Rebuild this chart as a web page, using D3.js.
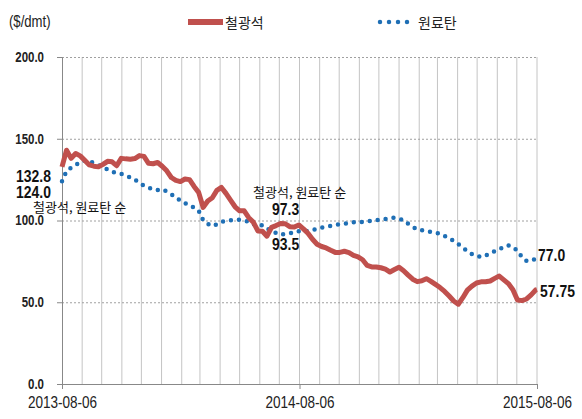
<!DOCTYPE html>
<html>
<head>
<meta charset="utf-8">
<script src="https://cdn.jsdelivr.net/npm/d3@7"></script>
<style>
  body { margin: 0; background: #fff; }
  svg { display: block; }
</style>
</head>
<body>
<div id="chart"></div>
<script>
// weekly observation dates
const dates = [
  "2013-08-06","2013-08-13","2013-08-20","2013-08-27","2013-09-03","2013-09-10","2013-09-17","2013-09-24",
  "2013-10-01","2013-10-08","2013-10-15","2013-10-22","2013-10-29","2013-11-05","2013-11-12","2013-11-19",
  "2013-11-26","2013-12-03","2013-12-10","2013-12-17","2013-12-24","2013-12-31","2014-01-07","2014-01-14",
  "2014-01-21","2014-01-28","2014-02-04","2014-02-11","2014-02-18","2014-02-25","2014-03-04","2014-03-11",
  "2014-03-18","2014-03-25","2014-04-01","2014-04-08","2014-04-15","2014-04-22","2014-04-29","2014-05-06",
  "2014-05-13","2014-05-20","2014-05-27","2014-06-03","2014-06-10","2014-06-17","2014-06-24","2014-07-01",
  "2014-07-08","2014-07-15","2014-07-22","2014-07-29","2014-08-05","2014-08-12","2014-08-19","2014-08-26",
  "2014-09-02","2014-09-09","2014-09-16","2014-09-23","2014-09-30","2014-10-07","2014-10-14","2014-10-21",
  "2014-10-28","2014-11-04","2014-11-11","2014-11-18","2014-11-25","2014-12-02","2014-12-09","2014-12-16",
  "2014-12-23","2014-12-30","2015-01-06","2015-01-13","2015-01-20","2015-01-27","2015-02-03","2015-02-10",
  "2015-02-17","2015-02-24","2015-03-03","2015-03-10","2015-03-17","2015-03-24","2015-03-31","2015-04-07",
  "2015-04-14","2015-04-21","2015-04-28","2015-05-05","2015-05-12","2015-05-19","2015-05-26","2015-06-02",
  "2015-06-09","2015-06-16","2015-06-23","2015-06-30","2015-07-07","2015-07-14","2015-07-21","2015-07-28",
  "2015-08-04","2015-08-06"
];

// 철광석 ($/dmt)
const ironOre = [
  132.8, 143, 138, 141, 139.5, 136.8, 134, 133.2, 132.8, 134.3,
  136.2, 135.9, 133.5, 138, 137.7, 137.5, 137.9, 139.7, 139.2, 135,
  134.7, 135.5, 133.2, 130.4, 126.3, 124.5, 123.8, 125.4, 125, 120.8,
  117.2, 108, 111.9, 113.9, 118.4, 120.2, 116.6, 112.5, 108.4, 105.9,
  105.9, 101.7, 99, 93.6, 93.4, 90.4, 95.8, 96.9, 98.2, 98,
  96.2, 96, 97.3, 94.9, 92.2, 88.5, 85.5, 84.1, 83.2, 81.8,
  80.5, 80.5, 81.2, 80.4, 78.7, 77.8, 76, 72.5, 71.6, 71.6,
  71.1, 70.2, 68.5, 70, 71.4, 69.3, 66.6, 64.1, 62.6, 63.1,
  64.4, 62.8, 60.9, 59, 56.6, 53.8, 50.8, 48.8, 52.8, 57.4,
  59.9, 61.8, 62.5, 62.5, 63, 64.6, 66, 63.7, 61.4, 57.7,
  51.4, 51, 52, 54.5, 57.5, 57.75
];

// 원료탄 ($/dmt)
const cokingCoal = [
  124, 130.3, 132.3, 133.9, 135.8, 136.7, 136.2, 135.2, 134, 132.6,
  131.2, 129.9, 128.8, 128.5, 127.7, 126.3, 124.9, 123.1, 121.2, 120.2,
  118.9, 118.7, 119.1, 117.7, 116, 114.2, 112.1, 110.6, 109.2, 107.9,
  106, 100.2, 98, 96.6, 97.7, 99.2, 99.9, 100.2, 100.4, 100.4,
  100.1, 99.2, 97.6, 97.9, 96.9, 94.8, 94.2, 92.3, 91.3, 91.9,
  92.2, 92.5, 93.5, 93.4, 93.7, 94.1, 94.9, 95.7, 96.1, 96.7,
  97.4, 97.7, 98, 98.5, 99, 99, 99.1, 99.4, 99.8, 100.2,
  100.6, 100.9, 101.5, 101.8, 101, 100.2, 98, 96.2, 94.5, 94,
  93.7, 93, 92.7, 91.8, 90.5, 89, 87.5, 85.6, 83.5, 81.2,
  79.5, 78.4, 77.6, 78.5, 80.1, 81.2, 82.3, 84, 84.8, 83.7,
  81.5, 77.5, 75.2, 75.3, 76.6, 77
];

const seriesNames = ["철광석", "원료탄"];
const yTicks = [0, 50, 100, 150, 200];
const xTickLabels = ["2013-08-06", "2014-08-06", "2015-08-06"];
const unitLabel = "($/dmt)";

const width = 582, height = 419;
const margin = { top: 57, right: 45, bottom: 35, left: 62 };

const parse = d3.timeParse("%Y-%m-%d");
const latin = "'Liberation Sans', Arial, sans-serif";
const kr = "'Noto Sans CJK KR', sans-serif";
const red = "#c0504d", blue = "#1f6fb5";

// squeeze Arial-metric text to look like a narrow face
function narrow(sel, f = 0.82) {
  sel.each(function () {
    const len = this.getComputedTextLength();
    d3.select(this).attr("textLength", len * f).attr("lengthAdjust", "spacingAndGlyphs");
  });
}

const svg = d3.select("#chart").append("svg")
  .attr("width", width)
  .attr("height", height);

const x = d3.scaleTime()
  .domain([parse(xTickLabels[0]), parse(xTickLabels[2])])
  .range([margin.left, width - margin.right]);
const y = d3.scaleLinear()
  .domain([0, 200])
  .range([height - margin.bottom, margin.top]);

// monthly vertical gridlines
const months = d3.range(1, 25).map(i => d3.timeMonth.offset(parse(xTickLabels[0]), i));
svg.append("g").selectAll("line")
  .data(months)
  .enter().append("line")
  .attr("x1", d => x(d)).attr("x2", d => x(d))
  .attr("y1", y(200)).attr("y2", y(0))
  .attr("stroke", "#c4c4c4")
  .attr("stroke-width", 1);

// dotted horizontal gridlines
svg.append("g").selectAll("line")
  .data(yTicks.filter(d => d > 0))
  .enter().append("line")
  .attr("x1", x.range()[0]).attr("x2", x.range()[1])
  .attr("y1", d => y(d) + 0.5).attr("y2", d => y(d) + 0.5)
  .attr("stroke", "#a0a0a0")
  .attr("stroke-dasharray", "2 2");

// y axis
const yAxis = svg.append("g")
  .attr("transform", `translate(${margin.left},0)`)
  .call(d3.axisLeft(y).tickValues(yTicks).tickSize(5).tickFormat(d3.format(".1f")));
yAxis.select(".domain").attr("stroke", "#888");
yAxis.selectAll(".tick line").attr("stroke", "#888");
yAxis.selectAll("text")
  .attr("x", -18)
  .attr("font-family", latin)
  .attr("font-size", "14px")
  .attr("font-weight", "bold")
  .attr("fill", "#222")
  .call(narrow);

// x axis
const xAxis = svg.append("g")
  .attr("transform", `translate(0,${y(0)})`)
  .call(d3.axisBottom(x).tickValues(xTickLabels.map(parse)).tickSize(5).tickFormat(d3.timeFormat("%Y-%m-%d")));
xAxis.select(".domain").attr("stroke", "#888");
xAxis.selectAll(".tick line").attr("stroke", "#888");
xAxis.selectAll("text")
  .attr("y", 12)
  .attr("font-family", latin)
  .attr("font-size", "16.5px")
  .attr("fill", "#222")
  .call(narrow);

// lines
const points = s => dates.map((d, i) => [parse(d), s[i]]);
const line = d3.line().x(d => x(d[0])).y(d => y(d[1]));

svg.append("path")
  .attr("d", line(points(cokingCoal)))
  .attr("fill", "none")
  .attr("stroke", blue)
  .attr("stroke-width", 4.5)
  .attr("stroke-linecap", "round")
  .attr("stroke-dasharray", "0 8");

svg.append("path")
  .attr("d", line(points(ironOre)))
  .attr("fill", "none")
  .attr("stroke", red)
  .attr("stroke-width", 5)
  .attr("stroke-linejoin", "round");

// unit label
svg.append("text")
  .attr("x", 9).attr("y", 27)
  .attr("font-family", latin)
  .attr("font-size", "16px")
  .attr("fill", "#222")
  .text(unitLabel)
  .call(narrow);

// legend
const legend = svg.append("g");
legend.append("line")
  .attr("x1", 188).attr("x2", 223).attr("y1", 22).attr("y2", 22)
  .attr("stroke", red).attr("stroke-width", 6);
legend.append("text")
  .attr("x", 225).attr("y", 28)
  .attr("font-family", kr).attr("font-size", "14px").attr("fill", "#222")
  .text(seriesNames[0]);
legend.append("line")
  .attr("x1", 380).attr("x2", 408).attr("y1", 22).attr("y2", 22)
  .attr("stroke", blue).attr("stroke-width", 4.5)
  .attr("stroke-linecap", "round").attr("stroke-dasharray", "0 9");
legend.append("text")
  .attr("x", 418).attr("y", 28)
  .attr("font-family", kr).attr("font-size", "14px").attr("fill", "#222")
  .text(seriesNames[1]);

// value annotations
const orderNote = seriesNames.join(", ") + " 순";
const fmt1 = d3.format(".1f");
const last = dates.length - 1;
const numNotes = [
  { t: fmt1(ironOre[0]), x: 16, y: 182 },
  { t: fmt1(cokingCoal[0]), x: 16, y: 198 },
  { t: fmt1(ironOre[52]), x: 272, y: 215 },
  { t: fmt1(cokingCoal[52]), x: 272, y: 250 },
  { t: fmt1(cokingCoal[last]), x: 538, y: 261 },
  { t: String(ironOre[last]), x: 540, y: 297 }
];
svg.append("g").selectAll("text")
  .data(numNotes)
  .enter().append("text")
  .attr("x", d => d.x).attr("y", d => d.y)
  .attr("font-family", latin)
  .attr("font-size", "17px")
  .attr("font-weight", "bold")
  .attr("fill", "#111")
  .text(d => d.t)
  .call(narrow);

const textNotes = [
  { t: orderNote, x: 33, y: 212 },
  { t: orderNote, x: 253, y: 197 }
];
svg.append("g").selectAll("text")
  .data(textNotes)
  .enter().append("text")
  .attr("x", d => d.x).attr("y", d => d.y)
  .attr("font-family", kr)
  .attr("font-size", "13px")
  .attr("fill", "#111")
  .text(d => d.t);
</script>
</body>
</html>
